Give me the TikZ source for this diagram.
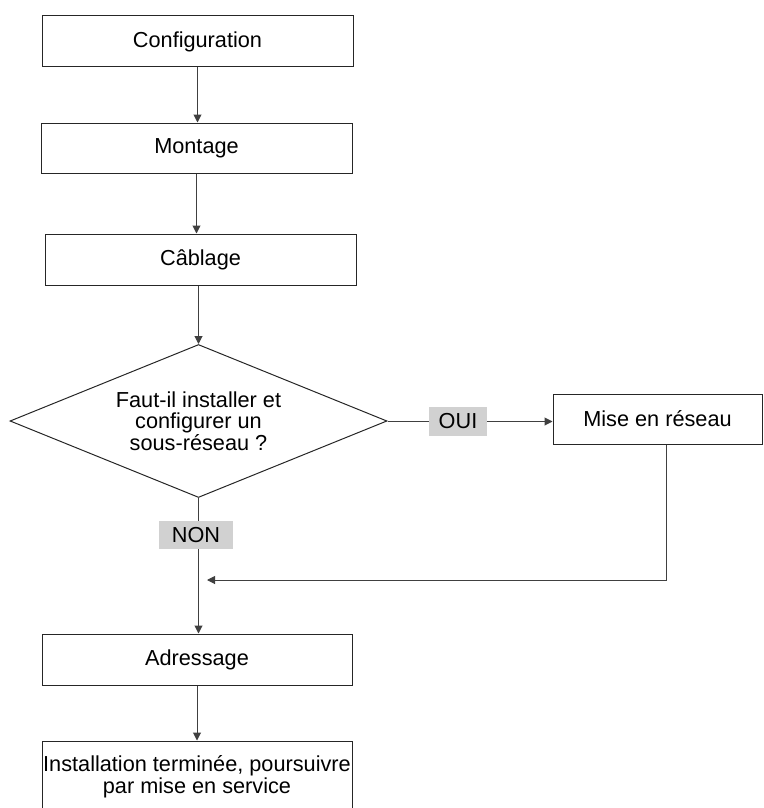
\documentclass[tikz,border=0pt]{standalone}
\usepackage{fontspec}
\setmainfont{Liberation Sans}
\usetikzlibrary{arrows.meta,shapes.geometric}

\begin{document}
\begin{tikzpicture}[x=1pt,y=-1pt,>={Triangle[length=8pt,width=8pt]},line join=miter]
  \tikzset{
    stage/.style={draw=black!85,line width=1pt,minimum width=311pt,minimum height=51pt,
      inner sep=0pt,font=\fontsize{21.7}{21.5}\selectfont},
    query/.style={diamond,aspect=2.46,draw=black!85,line width=1pt,minimum width=377pt,
      minimum height=153pt,inner sep=0pt,align=center,font=\fontsize{21.7}{21.5}\selectfont},
    answer/.style={fill=black!18,inner sep=0pt,font=\fontsize{21.7}{21.5}\selectfont},
    flow/.style={draw=black!75,line width=1pt}
  }

  \path[use as bounding box] (0,0) rectangle (763,808);

  \node[stage] (conf) at (197.5,41.5) {Configuration};
  \node[stage,minimum height=50pt] (mont) at (196.5,148) {Montage};
  \node[stage] (cabl) at (200.5,259.5) {Câblage};
  \node[query] (quest) at (198.5,421) {Faut-il installer et\\configurer un\\sous-réseau ?};
  \node[answer,minimum width=58pt,minimum height=29pt] (oui) at (458,421.5) {OUI};
  \node[stage,minimum width=209pt,minimum height=50pt] (mise) at (657.5,419) {Mise en réseau};
  \node[answer,minimum width=74pt,minimum height=28pt] (non) at (196,535) {NON};
  \node[stage,minimum width=310pt] (addr) at (197,659.5) {Adressage};
  \node[stage,minimum width=310pt,minimum height=72pt,align=center] (fin) at (197,777)
    {Installation terminée, poursuivre\\par mise en service};

  \coordinate (merge) at (207,580);

  \draw[flow,->] (conf.south) -- (conf.south |- mont.north);
  \draw[flow,->] (mont.south) -- (mont.south |- cabl.north);
  \draw[flow,->] (quest.north |- cabl.south) -- (quest.north);
  \draw[flow] (quest.east) -- (quest.east -| oui.west);
  \draw[flow,->] (oui.east) -- (oui.east -| mise.west);
  \draw[flow] (quest.south) -- (quest.south |- non.north);
  \draw[flow,->] (quest.south |- non.south) -- (quest.south |- addr.north);
  \draw[flow,->] ([xshift=8.5pt]mise.south) |- (merge);
  \draw[flow,->] (addr.south) -- (addr.south |- fin.north);
\end{tikzpicture}
\end{document}
